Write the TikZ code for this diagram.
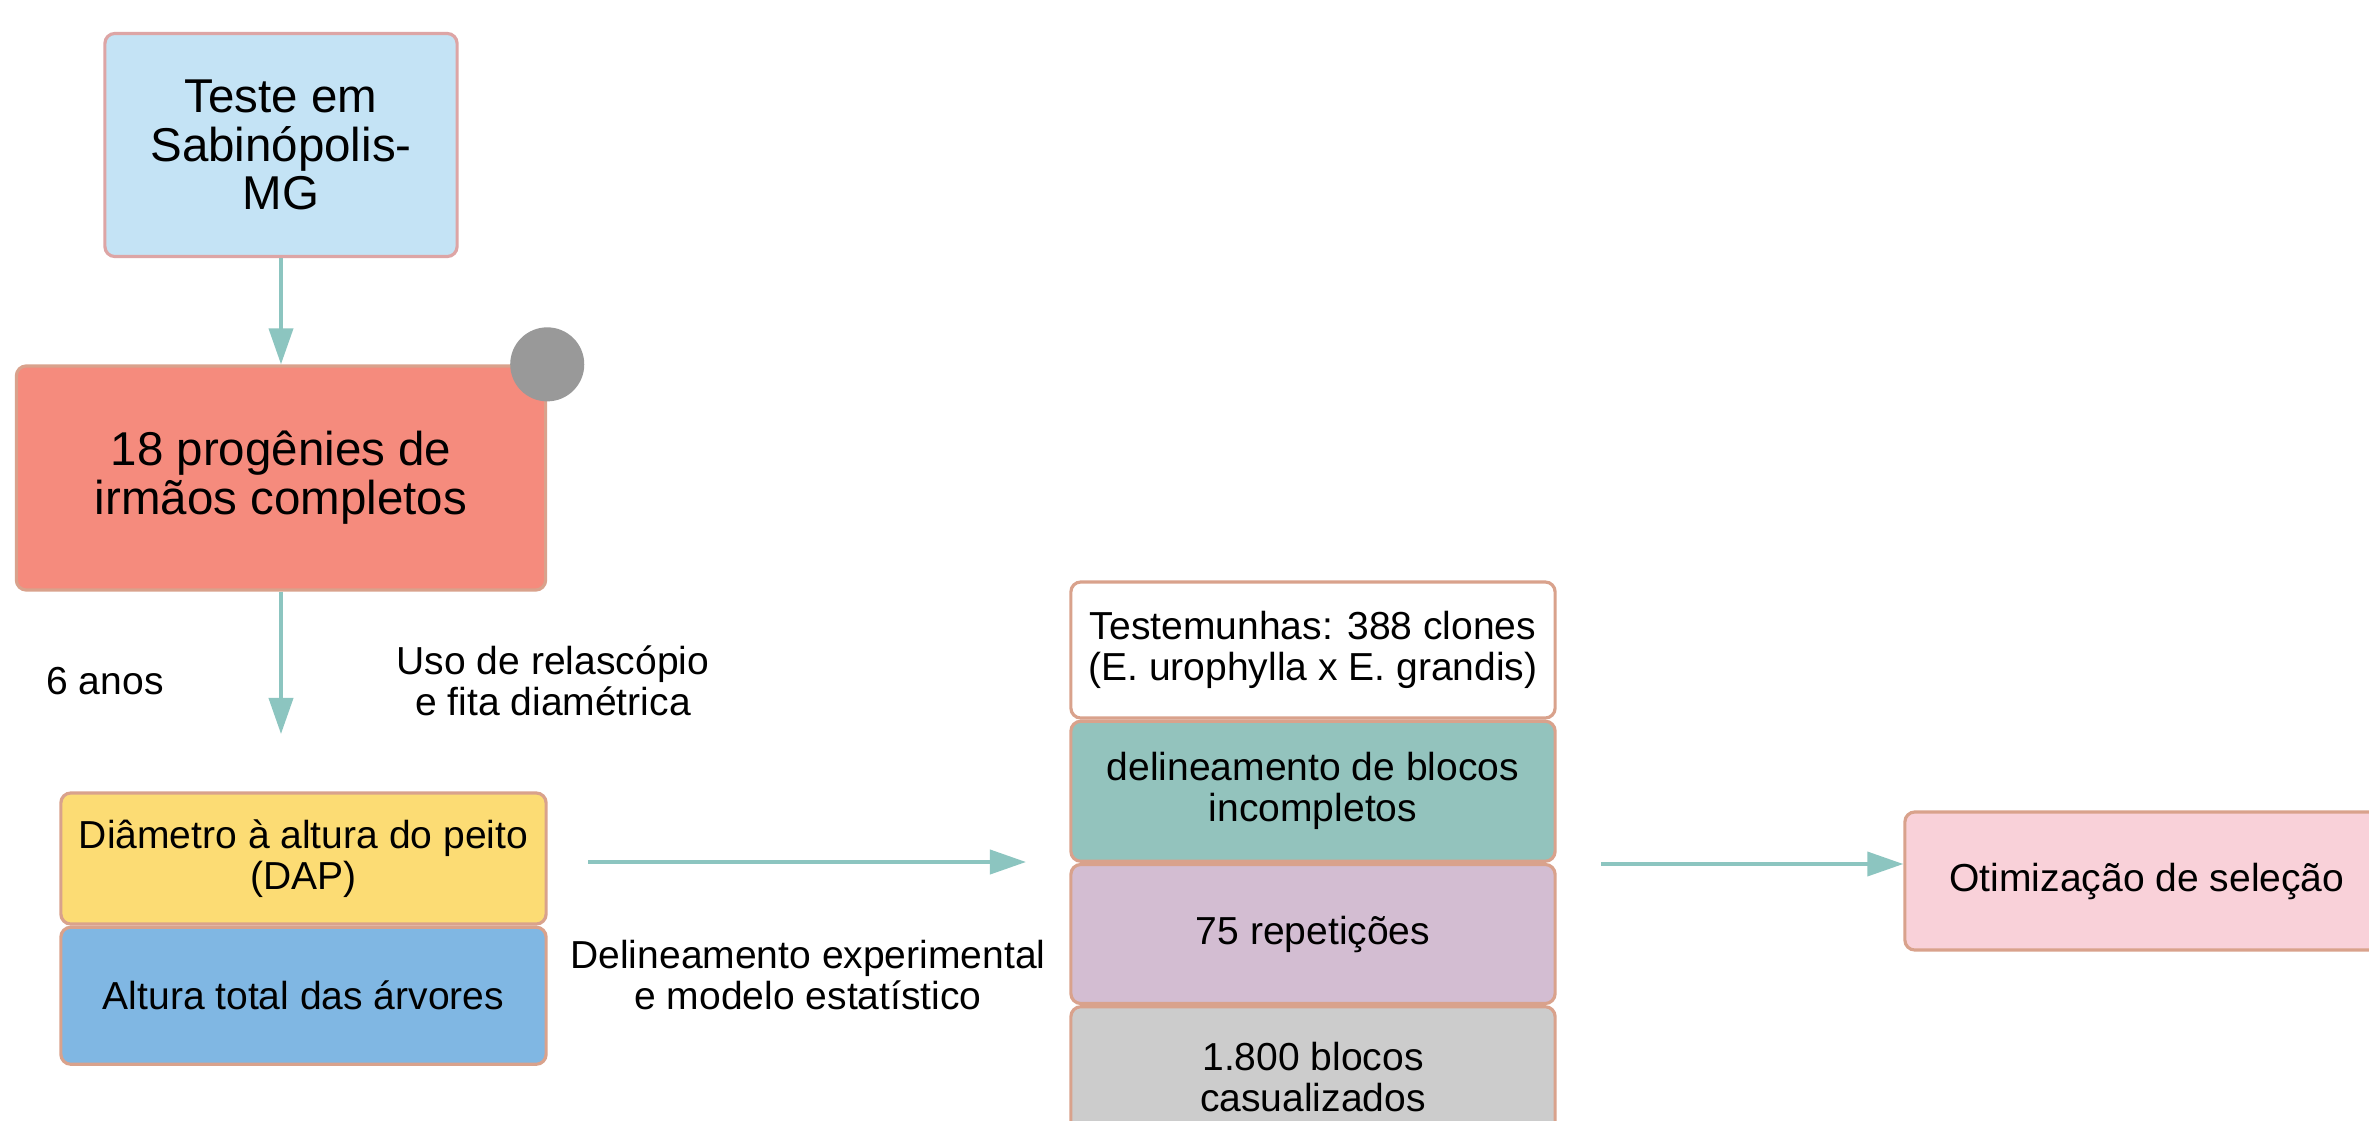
\documentclass[tikz,border=0pt]{standalone}
\usepackage{fontspec}
\setmainfont{Liberation Sans}
\usetikzlibrary{arrows.meta,positioning}
\definecolor{azulclaro}{HTML}{C4E3F5}
\definecolor{salmao}{HTML}{F58B7D}
\definecolor{amarelo}{HTML}{FCDC74}
\definecolor{azul}{HTML}{80B7E3}
\definecolor{verdeagua}{HTML}{93C3BD}
\definecolor{lilas}{HTML}{D3BDD2}
\definecolor{cinza}{HTML}{CCCCCC}
\definecolor{rosa}{HTML}{F9D1D9}
\definecolor{borda}{HTML}{D9A28C}
\definecolor{bordarosa}{HTML}{DDA5A5}
\definecolor{corseta}{HTML}{8CC5C0}
\definecolor{bolinha}{HTML}{999999}

\begin{document}
\begin{tikzpicture}[x=0.01cm,y=-0.01cm,
		caixa/.style={draw=borda,line width=0.9pt,rounded corners=0.1cm,inner sep=0pt,align=center,
			minimum width=4.84cm,minimum height=1.38cm,font=\fontsize{11.1}{11.7}\selectfont},
		grande/.style={font=\fontsize{13.5}{13.9}\selectfont},
		rotulo/.style={align=center,font=\fontsize{11.1}{11.5}\selectfont},
		ligacao/.style={draw=corseta,line width=1.1pt,-{Triangle[length=0.36cm,width=0.24cm]}}]
		\clip (0,0) rectangle (2369,1121);
		\fill [white] (0,0) rectangle (2369,1121);
		\node [caixa,grande,fill=azulclaro,draw=bordarosa,minimum width=3.52cm,minimum height=2.23cm] (teste) at (281,145) {Teste em\\Sabinópolis-\\MG};
		\node [caixa,grande,fill=salmao,minimum width=5.29cm,minimum height=2.24cm] (prog) at (281,478) {18 progênies de\\irmãos completos};
		\node [circle,fill=bolinha,inner sep=0pt,minimum size=0.74cm] (marca) at (prog.north east) {};
		\draw [ligacao] (teste) -- (prog);
		\coordinate (fimseis) at (281,734);
		\draw [ligacao] (prog) -- (fimseis);
		\node [rotulo] (anos) at (105,681) {6 anos};
		\node [rotulo] (uso) at (553,681) {Uso de relascópio\\e fita diamétrica};
		\node [caixa,fill=amarelo,minimum width=4.85cm,minimum height=1.31cm] (dap) at (303.5,858.5) {Diâmetro à altura do peito\\(DAP)};
		\node [caixa,fill=azul,minimum width=4.85cm,minimum height=1.37cm,below=0pt of dap] (altura) {Altura total das árvores};
		\coordinate (ini3) at (588,862);
		\coordinate (fim3) at (1026,862);
		\draw [ligacao] (ini3) -- (fim3);
		\node [rotulo] (delin) at (808,975) {Delineamento experimental\\e modelo estatístico};
		\node [caixa,fill=white,minimum height=1.36cm] (testem) at (1313,650) {Testemunhas: 388 clones\\(E. urophylla x E. grandis)};
		\node [caixa,fill=verdeagua,minimum height=1.40cm,below=0pt of testem] (blocos) {delineamento de blocos\\incompletos};
		\node [caixa,fill=lilas,minimum height=1.39cm,below=0pt of blocos] (repet) {75 repetições};
		\node [caixa,fill=cinza,minimum height=1.40cm,below=0pt of repet] (casual) {1.800 blocos\\casualizados};
		\node [caixa,fill=rosa] (otim) at (2147,881) {Otimização de seleção};
		\coordinate (ini4) at (1601,864);
		\draw [ligacao] (ini4) -- (ini4 -| otim.west);
\end{tikzpicture}
\end{document}
